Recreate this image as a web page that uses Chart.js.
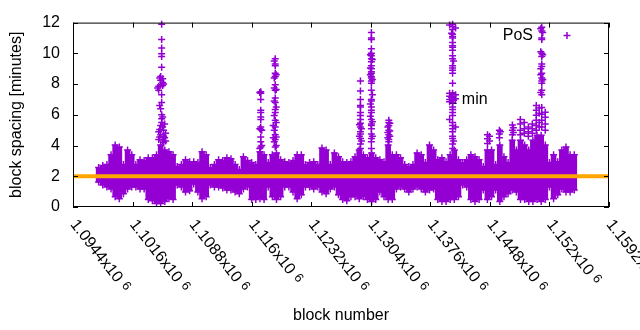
<!DOCTYPE html>
<html>
<head>
<meta charset="utf-8">
<title>PoS block spacing</title>
<script src="https://cdn.jsdelivr.net/npm/chart.js@4.4.0/dist/chart.umd.min.js"></script>
<style>
  html, body { margin: 0; padding: 0; background: #fff; }
  canvas { display: block; }
</style>
</head>
<body>
<canvas id="spacingChart" width="640" height="330"></canvas>
<script>
const PURPLE = '#9400d3';
const ORANGE = '#ffa500';
const FONT_FAMILY = "'Liberation Sans', Arial, sans-serif";
const FONT_SIZE = 16;

// x ticks (block number) and the mantissa shown in front of "x10^6"
const xTickValues = [1094400, 1101600, 1108800, 1116000, 1123200, 1130400, 1137600, 1144800, 1152000, 1159200];
const xTickLabels = ['1.0944x10', '1.1016x10', '1.1088x10', '1.116x10', '1.1232x10', '1.1304x10', '1.1376x10', '1.1448x10', '1.152x10', '1.1592x10'];
const yTickValues = [0, 2, 4, 6, 8, 10, 12];

// dense point cloud, one column per 500 blocks: lowest and highest spacing [minutes]
const bandBlocks = [
  1097500, 1098000, 1098500, 1099000, 1099500, 1100000, 1100500, 1101000, 1101500, 1102000,
  1102500, 1103000, 1103500, 1104000, 1104500, 1105000, 1105500, 1106000, 1106500, 1107000,
  1107500, 1108000, 1108500, 1109000, 1109500, 1110000, 1110500, 1111000, 1111500, 1112000,
  1112500, 1113000, 1113500, 1114000, 1114500, 1115000, 1115500, 1116000, 1116500, 1117000,
  1117500, 1118000, 1118500, 1119000, 1119500, 1120000, 1120500, 1121000, 1121500, 1122000,
  1122500, 1123000, 1123500, 1124000, 1124500, 1125000, 1125500, 1126000, 1126500, 1127000,
  1127500, 1128000, 1128500, 1129000, 1129500, 1130000, 1130500, 1131000, 1131500, 1132000,
  1132500, 1133000, 1133500, 1134000, 1134500, 1135000, 1135500, 1136000, 1136500, 1137000,
  1137500, 1138000, 1138500, 1139000, 1139500, 1140000, 1140500, 1141000, 1141500, 1142000,
  1142500, 1143000, 1143500, 1144000, 1144500, 1145000, 1145500, 1146000, 1146500, 1147000,
  1147500, 1148000, 1148500, 1149000, 1149500, 1150000, 1150500, 1151000, 1151500, 1152000,
  1152500, 1153000, 1153500, 1154000, 1154500, 1155000
];
const bandLow = [
  1.62, 1.43, 1.30, 1.17, 0.67, 0.54, 0.86, 1.17, 1.30, 1.30,
  1.17, 1.17, 0.48, 0.41, 0.22, 0.22, 0.35, 0.54, 0.48, 1.43,
  1.30, 0.98, 1.05, 1.49, 0.98, 0.54, 0.67, 1.43, 1.30, 1.30,
  1.24, 1.11, 1.11, 0.98, 0.86, 1.17, 1.30, 0.48, 0.48, 0.54,
  0.48, 1.30, 0.67, 0.48, 0.67, 1.30, 1.30, 0.98, 0.54, 0.79,
  1.30, 1.30, 1.17, 1.30, 0.98, 0.86, 1.17, 1.30, 0.79, 0.48,
  0.41, 0.67, 0.67, 0.54, 0.67, 0.48, 0.35, 0.48, 0.98, 0.67,
  0.48, 0.48, 1.17, 1.30, 1.17, 0.98, 1.17, 1.30, 1.17, 0.98,
  1.11, 1.17, 0.48, 0.35, 0.35, 0.48, 0.48, 0.67, 1.43, 1.30,
  0.48, 0.35, 0.48, 1.11, 0.48, 0.67, 1.11, 0.35, 0.67, 0.86,
  1.11, 0.98, 0.48, 0.48, 0.35, 0.35, 0.48, 0.35, 0.48, 1.30,
  0.54, 0.79, 1.17, 0.98, 0.98, 1.11
];
const bandHigh = [
  2.57, 2.70, 2.76, 3.40, 4.03, 3.90, 2.76, 3.71, 3.40, 2.76,
  3.08, 3.02, 3.21, 3.21, 3.40, 4.03, 3.71, 3.59, 3.40, 2.63,
  2.76, 3.08, 2.95, 2.95, 2.89, 3.59, 3.40, 2.57, 2.76, 3.08,
  3.02, 3.21, 3.14, 2.76, 2.44, 3.27, 3.02, 2.89, 2.76, 3.59,
  3.40, 2.89, 3.40, 3.52, 3.08, 2.95, 2.89, 3.02, 3.40, 3.40,
  2.76, 2.89, 2.95, 2.76, 3.84, 3.71, 2.76, 3.52, 3.27, 2.95,
  2.89, 2.95, 3.27, 3.71, 3.40, 3.21, 3.52, 3.21, 3.08, 2.95,
  4.03, 3.40, 3.40, 3.21, 2.76, 2.63, 2.76, 3.52, 3.40, 2.89,
  4.03, 3.71, 3.08, 3.21, 2.95, 3.40, 3.71, 3.08, 2.89, 3.08,
  3.40, 3.27, 3.08, 2.63, 3.71, 3.71, 2.76, 4.03, 3.27, 2.89,
  4.35, 3.71, 4.35, 4.03, 3.71, 4.35, 4.67, 4.67, 4.03, 2.89,
  3.40, 2.95, 3.71, 3.90, 3.40, 3.40
];

// slow blocks standing out above the cloud, grouped by block
const spikeBlocks = [
  1104640, 1104760, 1104880, 1105000, 1105120, 1105240, 1105360, 1105480, 1105600,
  1116980, 1117100, 1117220,
  1118610, 1118730, 1118850, 1118970,
  1129030, 1129150, 1129270,
  1130355, 1130475, 1130595,
  1132460, 1132580, 1132700,
  1139930, 1140170, 1140290, 1140410, 1140650,
  1144510, 1144750, 1145950, 1146070, 1147520, 1147640, 1148480, 1148960, 1149450, 1149930,
  1150410, 1150770, 1150950, 1151070, 1151190, 1151490
];
const spikeValues = [
  [7.75],
  [7.85, 7.6, 4.9, 4.4],
  [8.4, 6.6, 5.05, 4.55],
  [8.5, 8.25, 7.95, 6.4, 5.3, 4.7],
  [11.9, 10.9, 10.35, 9.97, 9.8, 9.1, 7.3, 6.8, 6.0, 5.75, 5.5],
  [8.35, 8.1, 7.9, 5.85, 5.2, 4.3],
  [8.0, 5.0, 4.6, 4.2],
  [5.4, 4.5],
  [4.8, 4.3],
  [7.45, 5.1, 3.8],
  [7.5, 7.4, 7.0, 6.3, 6.15, 5.85, 5.7, 5.2, 5.05, 4.55, 4.25, 3.9],
  [5.0, 4.0],
  [5.3, 4.5],
  [9.5, 8.4, 7.75, 6.9, 5.95, 5.0, 4.25],
  [9.65, 9.3, 9.2, 8.7, 8.5, 7.95, 7.6, 7.1, 6.8, 6.35, 6.15, 5.65, 5.2, 4.7, 4.4, 3.9],
  [8.6, 7.65, 6.5, 5.5, 4.55, 4.0],
  [5.35, 4.6],
  [8.2, 7.55, 7.0, 6.6, 6.5, 6.15, 5.95, 5.7, 5.45, 5.2, 4.9, 4.75, 4.45, 4.1, 3.8],
  [5.1, 4.3],
  [9.9, 9.05, 8.6, 6.7, 5.9],
  [11.35, 11.0, 10.9, 10.3, 10.0, 9.85, 9.65, 9.45, 9.2, 9.0, 8.8, 8.7, 8.5, 8.4, 8.2, 8.05, 7.6, 7.0, 6.9, 6.5, 6.3, 6.15, 5.7, 5.4, 5.3, 5.1, 4.75, 4.45, 4.25, 3.8],
  [9.6, 8.3, 7.3, 5.55, 4.6],
  [5.2, 4.85, 4.5],
  [5.65, 5.5, 5.3, 5.0, 4.7, 4.4, 4.25],
  [5.45, 4.95, 4.6],
  [11.85, 7.4, 7.2, 7.0, 6.85, 5.7],
  [11.3, 7.15],
  [11.9, 11.75, 11.55, 11.25, 11.1, 11.0, 10.7, 10.5, 10.4, 10.2, 9.85, 9.65, 9.2, 9.05, 8.9, 8.7, 8.05, 7.4, 7.2, 7.0, 6.8, 6.5, 6.35, 6.15, 5.95, 5.5, 5.3, 5.1, 4.9, 4.6, 4.45, 4.1, 3.8],
  [9.5, 6.95, 4.3],
  [11.65, 7.3, 7.05, 5.2],
  [4.7, 4.44, 4.13],
  [4.6, 4.3],
  [5.0, 4.75, 4.5],
  [4.9],
  [5.33, 5.0, 4.7],
  [5.15, 4.85],
  [5.7, 5.4, 5.0, 4.7],
  [5.5, 5.1, 4.8],
  [5.2, 4.9, 4.6],
  [5.4, 5.1, 4.8],
  [6.6, 6.3, 5.97, 5.65, 5.3, 5.0],
  [6.45, 6.1, 5.5, 5.2],
  [11.6, 10.1, 9.0, 8.6, 7.45],
  [11.7, 11.45, 11.0, 10.9, 10.0, 9.8, 9.3, 9.15, 8.7, 8.4, 8.2, 8.05, 7.6, 7.3, 6.48, 6.03, 5.65, 5.2],
  [11.35, 9.9, 8.3],
  [6.16, 5.84, 5.4, 5.0]
];

// 2 minute target line and its label
const targetBlocks = [1094400, 1159200];
const targetValues = [2, 2];
const targetLabel = '2 min';
const targetLabelAt = [1139800, 7];

// build the chart data
const bandBars = bandBlocks.map((b, i) => ({ x: b, y: [bandLow[i], bandHigh[i]] }));
const bandEdges = [];
bandBlocks.forEach((b, i) => {
  bandEdges.push({ x: b, y: bandLow[i] }, { x: b, y: bandHigh[i] });
});
const spikePoints = [];
spikeBlocks.forEach((b, i) => {
  spikeValues[i].forEach(v => spikePoints.push({ x: b, y: v }));
});
const targetPoints = targetBlocks.map((b, i) => ({ x: b, y: targetValues[i] }));

const font = { family: FONT_FAMILY, size: FONT_SIZE };
const crossStyle = {
  pointStyle: 'cross',
  pointRadius: 3.5,
  pointHoverRadius: 3.5,
  borderColor: PURPLE,
  backgroundColor: PURPLE,
  borderWidth: 1.5
};

// gnuplot look: box with inward ticks, rotated x labels, key and label
const LABEL_ANGLE = 52 * Math.PI / 180;
const gnuplotFrame = {
  id: 'gnuplotFrame',
  beforeDatasetsDraw(chart) {
    const { ctx, scales: { x, y } } = chart;
    ctx.save();
    ctx.font = `${FONT_SIZE}px ${FONT_FAMILY}`;
    ctx.fillStyle = '#000';
    ctx.textAlign = 'left';
    ctx.textBaseline = 'middle';
    ctx.fillText(targetLabel, x.getPixelForValue(targetLabelAt[0]), y.getPixelForValue(targetLabelAt[1]));
    ctx.restore();
  },
  afterDraw(chart) {
    const { ctx, chartArea: a, scales: { x, y } } = chart;
    ctx.save();
    ctx.strokeStyle = '#000';
    ctx.lineWidth = 1;
    ctx.strokeRect(a.left + 0.5, a.top + 0.5, a.right - a.left - 1, a.bottom - a.top - 1);

    ctx.beginPath();
    xTickValues.forEach(v => {
      const px = Math.round(x.getPixelForValue(v)) + 0.5;
      ctx.moveTo(px, a.bottom); ctx.lineTo(px, a.bottom - 5);
      ctx.moveTo(px, a.top); ctx.lineTo(px, a.top + 5);
    });
    yTickValues.forEach(v => {
      const py = Math.round(y.getPixelForValue(v)) + 0.5;
      ctx.moveTo(a.left, py); ctx.lineTo(a.left + 5, py);
      ctx.moveTo(a.right, py); ctx.lineTo(a.right - 5, py);
    });
    ctx.stroke();

    // x tick labels, rotated clockwise and starting at the tick
    ctx.fillStyle = '#000';
    ctx.textAlign = 'left';
    ctx.textBaseline = 'alphabetic';
    xTickValues.forEach((v, i) => {
      const px = x.getPixelForValue(v);
      ctx.save();
      ctx.translate(px - 3.3, a.bottom + 17.4);
      ctx.rotate(LABEL_ANGLE);
      ctx.font = `${FONT_SIZE}px ${FONT_FAMILY}`;
      ctx.fillText(xTickLabels[i], 0, 0);
      const w = ctx.measureText(xTickLabels[i]).width;
      ctx.font = `${FONT_SIZE * 0.8}px ${FONT_FAMILY}`;
      ctx.fillText('6', w + 5, -3);
      ctx.restore();
    });

    // key
    const kx = a.right - 42;
    const ky = a.top + 13;
    ctx.font = `${FONT_SIZE}px ${FONT_FAMILY}`;
    ctx.textAlign = 'right';
    ctx.textBaseline = 'middle';
    ctx.fillText(chart.data.datasets[1].label, a.right - 76, ky);
    ctx.strokeStyle = PURPLE;
    ctx.lineWidth = 1.5;
    ctx.beginPath();
    ctx.moveTo(kx - 3.5, ky); ctx.lineTo(kx + 3.5, ky);
    ctx.moveTo(kx, ky - 3.5); ctx.lineTo(kx, ky + 3.5);
    ctx.stroke();
    ctx.restore();
  }
};

new Chart(document.getElementById('spacingChart'), {
  type: 'scatter',
  data: {
    datasets: [
      { type: 'line', label: targetLabel, data: targetPoints, borderColor: ORANGE, borderWidth: 4, pointRadius: 0, order: 0, clip: false },
      Object.assign({ label: 'PoS', data: spikePoints, order: 1, clip: false }, crossStyle),
      Object.assign({ label: 'PoS cloud edge', data: bandEdges, order: 2 }, crossStyle),
      { type: 'bar', label: 'PoS cloud', data: bandBars, backgroundColor: PURPLE, borderWidth: 0, barThickness: 5, grouped: false, order: 3 }
    ]
  },
  options: {
    responsive: false,
    animation: false,
    devicePixelRatio: 1,
    events: [],
    layout: { padding: { top: 19, right: 31, left: 0, bottom: 0 } },
    plugins: { legend: { display: false }, tooltip: { enabled: false } },
    scales: {
      x: {
        type: 'linear',
        min: 1094400,
        max: 1159200,
        offset: false,
        afterBuildTicks: s => { s.ticks = xTickValues.map(v => ({ value: v })); },
        afterFit: s => { s.height = 123; },
        grid: { display: false, drawTicks: false },
        border: { display: false },
        ticks: { display: false },
        title: { display: true, text: 'block number', color: '#000', font, padding: { top: 0, bottom: 4.5 } }
      },
      y: {
        type: 'linear',
        min: 0,
        max: 12,
        afterBuildTicks: s => { s.ticks = yTickValues.map(v => ({ value: v })); },
        afterFit: s => { s.width = 73; },
        grid: { display: false, drawTicks: false },
        border: { display: false },
        ticks: { color: '#000', font, padding: 13 },
        title: { display: true, text: 'block spacing [minutes]', color: '#000', font, padding: { top: 7, bottom: 0 } }
      }
    }
  },
  plugins: [gnuplotFrame]
});
</script>
</body>
</html>
